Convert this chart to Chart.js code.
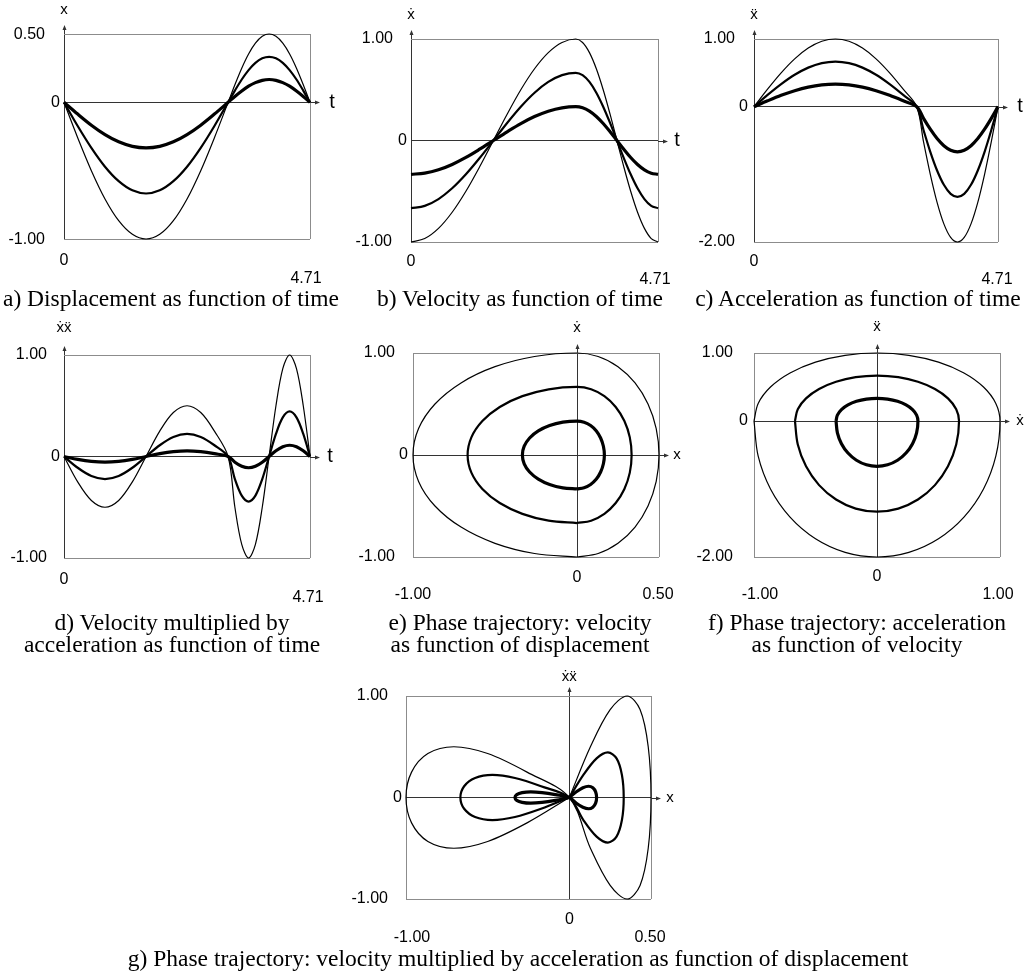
<!DOCTYPE html>
<html>
<head>
<meta charset="utf-8">
<script src="https://cdn.jsdelivr.net/npm/chart.js@4.4.0/dist/chart.umd.min.js"></script>
<style>
body { margin: 0; background: #fff; width: 1036px; height: 976px; position: relative; overflow: hidden; }
canvas { position: absolute; }
.cap { position: absolute; width: 520px; font-family: "Liberation Serif", "Times New Roman", serif; font-size: 23.5px; line-height: 22px; color: #000; text-align: center; white-space: nowrap; }
</style>
</head>
<body>
<canvas id="pa"></canvas>
<canvas id="pb"></canvas>
<canvas id="pc"></canvas>
<canvas id="pd"></canvas>
<canvas id="pe"></canvas>
<canvas id="pf"></canvas>
<canvas id="pg"></canvas>

<div class="cap" style="left:-89px; top:287px">a) Displacement as function of time</div>
<div class="cap" style="left:260px; top:287px">b) Velocity as function of time</div>
<div class="cap" style="left:598px; top:287px">c) Acceleration as function of time</div>
<div class="cap" style="left:-88px; top:611px">d) Velocity multiplied by<br>acceleration as function of time</div>
<div class="cap" style="left:260px; top:611px">e) Phase trajectory: velocity<br>as function of displacement</div>
<div class="cap" style="left:597px; top:611px">f) Phase trajectory: acceleration<br>as function of velocity</div>
<div class="cap" style="left:68px; top:947px; width:900px">g) Phase trajectory: velocity multiplied by acceleration as function of displacement</div>

<script>
// time samples: 0..pi every 15 deg, pi..3pi/2 every 7.5 deg
let time = [0,0.262,0.524,0.785,1.047,1.309,1.571,1.833,2.094,2.356,2.618,2.880,3.142,
            3.272,3.403,3.534,3.665,3.796,3.927,4.058,4.189,4.320,4.451,4.581,4.71];

// displacement x (thin / medium / thick curve)
let dispThin  = [0,-0.259,-0.500,-0.707,-0.866,-0.966,-1.000,-0.966,-0.866,-0.707,-0.500,-0.259,0,
                 0.129,0.250,0.354,0.433,0.483,0.500,0.483,0.433,0.354,0.250,0.129,0];
let dispMid   = [0,-0.173,-0.333,-0.471,-0.577,-0.644,-0.667,-0.644,-0.577,-0.471,-0.333,-0.173,0,
                 0.086,0.167,0.236,0.289,0.322,0.333,0.322,0.289,0.236,0.167,0.086,0];
let dispThick = [0,-0.086,-0.167,-0.236,-0.289,-0.322,-0.333,-0.322,-0.289,-0.236,-0.167,-0.086,0,
                 0.043,0.083,0.118,0.144,0.161,0.167,0.161,0.144,0.118,0.083,0.043,0];

// velocity
let velThin  = [-1.000,-0.966,-0.866,-0.707,-0.500,-0.259,0,0.259,0.500,0.707,0.866,0.966,1.000,
                0.966,0.866,0.707,0.500,0.259,0,-0.259,-0.500,-0.707,-0.866,-0.966,-1.000];
let velMid   = [-0.667,-0.644,-0.577,-0.471,-0.333,-0.173,0,0.173,0.333,0.471,0.577,0.644,0.667,
                0.644,0.577,0.471,0.333,0.173,0,-0.173,-0.333,-0.471,-0.577,-0.644,-0.667];
let velThick = [-0.333,-0.322,-0.289,-0.236,-0.167,-0.086,0,0.086,0.167,0.236,0.289,0.322,0.333,
                0.322,0.289,0.236,0.167,0.086,0,-0.086,-0.167,-0.236,-0.289,-0.322,-0.333];

// acceleration
let accThin  = [0,0.259,0.500,0.707,0.866,0.966,1.000,0.966,0.866,0.707,0.500,0.259,0,
                -0.518,-1.000,-1.414,-1.732,-1.932,-2.000,-1.932,-1.732,-1.414,-1.000,-0.518,0];
let accMid   = [0,0.173,0.333,0.471,0.577,0.644,0.667,0.644,0.577,0.471,0.333,0.173,0,
                -0.345,-0.667,-0.943,-1.155,-1.288,-1.333,-1.288,-1.155,-0.943,-0.667,-0.345,0];
let accThick = [0,0.086,0.167,0.236,0.289,0.322,0.333,0.322,0.289,0.236,0.167,0.086,0,
                -0.173,-0.333,-0.471,-0.577,-0.644,-0.667,-0.644,-0.577,-0.471,-0.333,-0.173,0];

// velocity * acceleration
let prodThin  = [0,-0.250,-0.433,-0.500,-0.433,-0.250,0,0.250,0.433,0.500,0.433,0.250,0,
                 -0.500,-0.866,-1.000,-0.866,-0.500,0,0.500,0.866,1.000,0.866,0.500,0];
let prodMid   = [0,-0.111,-0.192,-0.222,-0.192,-0.111,0,0.111,0.192,0.222,0.192,0.111,0,
                 -0.222,-0.385,-0.444,-0.385,-0.222,0,0.222,0.385,0.444,0.385,0.222,0];
let prodThick = [0,-0.028,-0.048,-0.056,-0.048,-0.028,0,0.028,0.048,0.056,0.048,0.028,0,
                 -0.056,-0.096,-0.111,-0.096,-0.056,0,0.056,0.096,0.111,0.096,0.056,0];

// tick values (box edges + axis)
let tTicks = [0, 4.71];
let xTicks = [-1, 0, 0.5];
let vTicks = [-1, 0, 1];
let aTicks = [-2, 0, 1];
let dTicks = [-1, 0, 0.5];

const widths = [1.2, 2.2, 3.2];
const boxGray = '#8c8c8c';
const axisDark = '#333';

function lineSet(xs, ys, i) {
    return {
        data: xs.map((v, k) => ({ x: v, y: ys[k] })),
        borderColor: '#000',
        borderWidth: widths[i],
        pointRadius: 0,
        fill: false,
        clip: false,
        tension: 0.33
    };
}

function axis(ticks) {
    return {
        type: 'linear',
        min: ticks[0],
        max: ticks[ticks.length - 1],
        border: { display: false },
        ticks: { display: false },
        afterBuildTicks: s => { s.ticks = ticks.map(v => ({ value: v })); },
        grid: {
            drawTicks: false,
            lineWidth: 1,
            color: c => (c.tick && c.tick.value === 0) ? axisDark : boxGray
        }
    };
}

// arrows on the axes + all text labels
const deco = {
    id: 'deco',
    afterDraw(chart, args, opts) {
        const ctx = chart.ctx;
        const a = chart.chartArea;
        const sx = chart.scales.x, sy = chart.scales.y;
        const x0 = Math.round(sx.getPixelForValue(0)) + 0.5;
        const y0 = Math.round(sy.getPixelForValue(0)) + 0.5;
        ctx.save();
        ctx.strokeStyle = axisDark;
        ctx.fillStyle = axisDark;
        ctx.lineWidth = 1;
        ctx.beginPath();
        ctx.moveTo(x0, a.top); ctx.lineTo(x0, a.top - 6);
        ctx.moveTo(a.right, y0); ctx.lineTo(a.right + 7, y0);
        ctx.stroke();
        ctx.beginPath();
        ctx.moveTo(x0, a.top - 9); ctx.lineTo(x0 - 2, a.top - 4); ctx.lineTo(x0 + 2, a.top - 4); ctx.closePath();
        ctx.moveTo(a.right + 10, y0); ctx.lineTo(a.right + 5, y0 - 2); ctx.lineTo(a.right + 5, y0 + 2); ctx.closePath();
        ctx.fill();

        ctx.fillStyle = '#000';
        ctx.textBaseline = 'middle';
        opts.labels.forEach(l => {
            ctx.font = (l[6] || 16) + 'px "Liberation Sans", Arial, sans-serif';
            ctx.textAlign = l[5];
            ctx.fillText(l[0], sx.getPixelForValue(l[1]) + l[3], sy.getPixelForValue(l[2]) + l[4]);
        });
        ctx.restore();
    }
};

function makeChart(id, box, xt, yt, sets, labels) {
    const cv = document.getElementById(id);
    const pl = 64, pt = 34, pr = 40, pb = 52;
    cv.width = box[2] - box[0] + pl + pr;
    cv.height = box[3] - box[1] + pt + pb;
    cv.style.left = (box[0] - pl) + 'px';
    cv.style.top = (box[1] - pt) + 'px';
    return new Chart(cv, {
        type: 'line',
        data: { datasets: sets },
        options: {
            responsive: false,
            animation: false,
            events: [],
            layout: { padding: { left: pl, top: pt, right: pr, bottom: pb } },
            plugins: { legend: { display: false }, tooltip: { enabled: false }, deco: { labels: labels } },
            scales: { x: axis(xt), y: axis(yt) }
        },
        plugins: [deco]
    });
}

// a) displacement vs time
makeChart('pa', [64, 34, 310, 239], tTicks, dTicks,
    [lineSet(time, dispThin, 0), lineSet(time, dispMid, 1), lineSet(time, dispThick, 2)],
    [['0.50', 0, 0.5, -19, 1, 'right'], ['0', 0, 0, -4, 0, 'right'], ['-1.00', 0, -1, -19, 1, 'right'],
     ['x', 0, 0.5, 0, -24, 'center', 15], ['t', 4.71, 0, 22, 0, 'center', 20],
     ['0', 0, -1, 0, 22, 'center'], ['4.71', 4.71, -1, -4, 40, 'center']]);

// b) velocity vs time
makeChart('pb', [411, 39, 658, 242], tTicks, vTicks,
    [lineSet(time, velThin, 0), lineSet(time, velMid, 1), lineSet(time, velThick, 2)],
    [['1.00', 0, 1, -18, 0, 'right'], ['0', 0, 0, -4, 0, 'right'], ['-1.00', 0, -1, -19, 0, 'right'],
     ['ẋ', 0, 1, 0, -24, 'center', 15], ['t', 4.71, 0, 19, 0, 'center', 20],
     ['0', 0, -1, 0, 20, 'center'], ['4.71', 4.71, -1, -3, 38, 'center']]);

// c) acceleration vs time
makeChart('pc', [754, 39, 998, 242], tTicks, aTicks,
    [lineSet(time, accThin, 0), lineSet(time, accMid, 1), lineSet(time, accThick, 2)],
    [['1.00', 0, 1, -19, 0, 'right'], ['0', 0, 0, -6, 0, 'right'], ['-2.00', 0, -2, -19, 0, 'right'],
     ['ẍ', 0, 1, 0, -24, 'center', 15], ['t', 4.71, 0, 22, 0, 'center', 20],
     ['0', 0, -2, 0, 20, 'center'], ['4.71', 4.71, -2, -1, 38, 'center']]);

// d) velocity * acceleration vs time
makeChart('pd', [64, 355, 310, 558], tTicks, vTicks,
    [lineSet(time, prodThin, 0), lineSet(time, prodMid, 1), lineSet(time, prodThick, 2)],
    [['1.00', 0, 1, -17, 0, 'right'], ['0', 0, 0, -4, 0, 'right'], ['-1.00', 0, -1, -17, 0, 'right'],
     ['ẋẍ', 0, 1, 0, -27, 'center', 15], ['t', 4.71, 0, 20, 0, 'center', 20],
     ['0', 0, -1, 0, 22, 'center'], ['4.71', 4.71, -1, -2, 40, 'center']]);

// e) velocity vs displacement
makeChart('pe', [413, 353, 659, 557], xTicks, vTicks,
    [lineSet(dispThin, velThin, 0), lineSet(dispMid, velMid, 1), lineSet(dispThick, velThick, 2)],
    [['1.00', -1, 1, -18, 0, 'right'], ['0', -1, 0, -5, 0, 'right'], ['-1.00', -1, -1, -18, 0, 'right'],
     ['ẋ', 0, 1, 0, -25, 'center', 15], ['x', 0.5, 0, 18, 0, 'center', 15],
     ['0', 0, -1, 0, 21, 'center'], ['-1.00', -1, -1, 0, 38, 'center'], ['0.50', 0.5, -1, -1, 38, 'center']]);

// f) acceleration vs velocity
makeChart('pf', [754, 353, 1000, 557], vTicks, aTicks,
    [lineSet(velThin, accThin, 0), lineSet(velMid, accMid, 1), lineSet(velThick, accThick, 2)],
    [['1.00', -1, 1, -21, 0, 'right'], ['0', -1, 0, -6, 0, 'right'], ['-2.00', -1, -2, -21, 0, 'right'],
     ['ẍ', 0, 1, 0, -26, 'center', 15], ['ẋ', 1, 0, 20, 0, 'center', 15],
     ['0', 0, -2, 0, 20, 'center'], ['-1.00', -1, -2, 6, 38, 'center'], ['1.00', 1, -2, -2, 38, 'center']]);

// g) velocity * acceleration vs displacement
makeChart('pg', [406, 696, 651, 899], xTicks, vTicks,
    [lineSet(dispThin, prodThin, 0), lineSet(dispMid, prodMid, 1), lineSet(dispThick, prodThick, 2)],
    [['1.00', -1, 1, -18, 0, 'right'], ['0', -1, 0, -4, 0, 'right'], ['-1.00', -1, -1, -18, 0, 'right'],
     ['ẋẍ', 0, 1, 0, -19, 'center', 15], ['x', 0.5, 0, 19, 0, 'center', 15],
     ['0', 0, -1, 0, 21, 'center'], ['-1.00', -1, -1, 6, 39, 'center'], ['0.50', 0.5, -1, -1, 39, 'center']]);
</script>
</body>
</html>
